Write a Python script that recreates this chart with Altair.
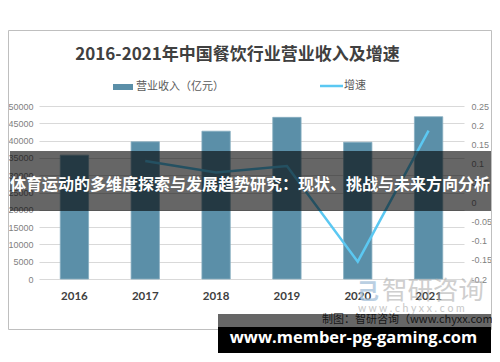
import altair as alt
import pandas as pd

years = ["2016", "2017", "2018", "2019", "2020", "2021"]
revenue = [35799, 39644, 42716, 46721, 39527, 46895]
growth = [None, 0.107, 0.077, 0.094, -0.155, 0.186]

title_text = "2016-2021年中国餐饮行业营业收入及增速"
legend_bar = "营业收入（亿元）"
legend_line = "增速"
banner_text = "体育运动的多维度探索与发展趋势研究：现状、挑战与未来方向分析"
source_text = "制图：智研咨询（www.chyxx.com）"
url_text = "www.member-pg-gaming.com"
wm_text = "智研咨询"
wm_url = "w w w . c h y x x . c o m"

left_ticks = list(range(0, 50001, 5000))
right_ticks = [-0.2, -0.15, -0.1, -0.05, 0, 0.05, 0.1, 0.15, 0.2, 0.25]

CJK = "Noto Sans CJK SC"
NUM = "Lato"
AX = "Liberation Sans"
BAR = "#5B8FA8"
LINE = "#5BC8F2"

df = pd.DataFrame({"year": years, "revenue": revenue, "growth": growth})
one = pd.DataFrame({"k": [0]})

xenc = alt.X("year:O", title=None, sort=years,
             scale=alt.Scale(paddingInner=0.6, paddingOuter=0.3),
             axis=alt.Axis(domain=False, ticks=False, labelAngle=0, labelPadding=11,
                           labelFont=NUM, labelFontSize=11.5, labelFontWeight="bold",
                           labelColor="#404040"))

border = alt.Chart(one).mark_rect(fill="white", fillOpacity=0, stroke="#bfbfbf",
                                  strokeWidth=1).encode(
    x=alt.value(-30.5), x2=alt.value(452.5), y=alt.value(-75.5), y2=alt.value(223.5))

bars = alt.Chart(df).mark_bar(color=BAR, stroke="#86adc0", strokeWidth=0.8).encode(
    x=xenc,
    y=alt.Y("revenue:Q", title=None,
            scale=alt.Scale(domain=[0, 50000], nice=False, zero=True),
            axis=alt.Axis(values=left_ticks, domain=False, ticks=False, labelPadding=6,
                          labelFont=AX, labelFontSize=9, labelColor="#7f7f7f",
                          gridColor="#d9d9d9", format="d")))

line = alt.Chart(df).mark_line(color=LINE, strokeWidth=2.5).encode(
    x=alt.X("year:O", sort=years),
    y=alt.Y("growth:Q", title=None,
            scale=alt.Scale(domain=[-0.2, 0.25], nice=False, zero=False),
            axis=alt.Axis(orient="right", values=right_ticks, domain=False, ticks=False,
                          grid=False, labelPadding=7, labelFont=AX, labelFontSize=9,
                          labelColor="#7f7f7f",
                          labelExpr="'' + round(datum.value*100)/100")))

title = alt.Chart(one).mark_text(text=title_text, font=CJK, fontSize=17, fontWeight="bold",
                                 color="#404040", align="center", baseline="middle").encode(
    x=alt.value(198.5), y=alt.value(-51))

leg_rect = alt.Chart(one).mark_rect(color=BAR).encode(
    x=alt.value(74), x2=alt.value(94), y=alt.value(-22), y2=alt.value(-16))
leg_t1 = alt.Chart(one).mark_text(text=legend_bar, font=CJK, fontSize=11, color="#595959",
                                  align="left", baseline="middle").encode(
    x=alt.value(97), y=alt.value(-19))
leg_line = alt.Chart(one).mark_rule(color=LINE, strokeWidth=2.5).encode(
    x=alt.value(281), x2=alt.value(304), y=alt.value(-20))
leg_t2 = alt.Chart(one).mark_text(text=legend_line, font=CJK, fontSize=11, color="#595959",
                                  align="left", baseline="middle").encode(
    x=alt.value(305), y=alt.value(-20))

wm_logo = alt.Chart(one).mark_text(text="己", font=CJK, fontSize=22, fontWeight="bold",
                                   color="#a9c4dc", opacity=0.8, align="center",
                                   baseline="middle").encode(
    x=alt.value(329), y=alt.value(186))
wm = alt.Chart(one).mark_text(text=wm_text, font=CJK, fontSize=25.5, color="#b0b0b0",
                              opacity=0.6, align="left", baseline="middle").encode(
    x=alt.value(343), y=alt.value(185))
wm2 = alt.Chart(one).mark_text(text=wm_url, font=NUM, fontSize=10.5, color="#b0b0b0",
                               opacity=0.7, align="left", baseline="middle").encode(
    x=alt.value(319), y=alt.value(203))

source = alt.Chart(one).mark_text(text=source_text, font=CJK, fontSize=11, color="#404040",
                                  align="left", baseline="middle").encode(
    x=alt.value(283), y=alt.value(214))

banner = alt.Chart(one).mark_rect(color="black", opacity=0.6).encode(
    x=alt.value(-29), x2=alt.value(452), y=alt.value(45), y2=alt.value(105))
banner_t = alt.Chart(one).mark_text(text=banner_text, font=CJK, fontSize=16, fontWeight="bold",
                                    color="white", align="center", baseline="middle").encode(
    x=alt.value(211), y=alt.value(79))

band_gray = alt.Chart(one).mark_rect(color="black", opacity=0.6).encode(
    x=alt.value(179), x2=alt.value(452), y=alt.value(208), y2=alt.value(221))
band_black = alt.Chart(one).mark_rect(color="black").encode(
    x=alt.value(179), x2=alt.value(452), y=alt.value(221), y2=alt.value(247))
url_t = alt.Chart(one).mark_text(text=url_text, font="Open Sans", fontSize=16.5,
                                 fontWeight="bold", color="white", align="center",
                                 baseline="middle").encode(
    x=alt.value(314.5), y=alt.value(232))

chart = alt.layer(
    border, bars, line, title, leg_rect, leg_t1, leg_line, leg_t2,
    wm_logo, wm, wm2, source, banner, banner_t, band_gray, band_black, url_t
).resolve_scale(y="independent").properties(
    width=425, height=173,
    padding={"left": 31, "top": 98, "right": 28, "bottom": 74},
    autosize=alt.AutoSizeParams(type="none"),
    background="white",
).configure_view(stroke=None)

chart.save("out.html", embed_options={"renderer": "svg", "actions": False})
